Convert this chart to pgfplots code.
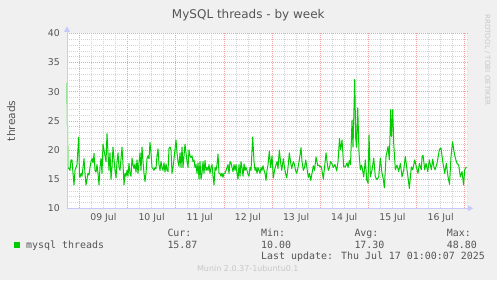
\documentclass[border=0pt]{standalone}
\usepackage{pgfplots}
\pgfplotsset{compat=1.18}
\usepackage{pgfplotstable}
\usetikzlibrary{arrows.meta}
\usepackage{fontspec}
\setmainfont{DejaVu Sans}
\newfontfamily\mono{DejaVu Sans Mono}
\definecolor{bg}{HTML}{F0F0F0}
\definecolor{txt}{HTML}{555555}
\definecolor{mgrid}{HTML}{F2A0A0}
\definecolor{ngrid}{HTML}{D4D4D4}
\definecolor{axl}{HTML}{C8C8FA}
\definecolor{lgreen}{HTML}{00CC00}
\definecolor{wm}{HTML}{C8C8C8}
% p = horizontal sample position (one sample per 30 min), v = threads
\pgfplotstableread{
p v
67 31.5
68 17
69 16.8
70 16.5
71 18.3
72 18.3
73 16
74 14
75 16.5
76 17
77 17.5
78.7 22.2
79.5 15.5
80 15.3
81 16
82 15.5
83 17
84 18.5
85 16
86 14
87 15
88 16
89 15.7
90 17
91 18
92 18.5
93 17.8
94 19.4
95 16.5
96 16.2
97 17.5
98 16
99 14
100 17
101 18.5
102 16
103 21
104 20
105 19
106 18
107 22.8
108 19.5
109 16.5
110 19.5
111 15
112 17
113 20.5
114 18.5
115 16.5
116 15.2
117 18
118 19.5
119 17
120 16.5
121 18.5
122 20.5
123 17.5
124 14
125 16
126 15.5
127 16.5
128 15.5
129 17.7
130 16
131 15.5
132 18.6
133 17.5
134 16.8
135 17.6
136 16.2
137 18.3
138 16
139 17.8
140 19.5
141 16.5
142 20.5
143 18
144 16
145 14.6
146 16
147 18.5
148 19
149 18.5
150 21.3
151 19.5
152 17
153 16.8
154 16.5
155 17
156 16.8
157 19
158 20.2
159 17.5
160 16.5
161 18
162 17
163 16.5
164 17.8
165 16.2
166 17.6
167 16.5
168 16.3
169 20.3
170 20.5
171 20
172 16
173 17
174 18.5
176 21.7
177 19.5
178 18
179 17.2
180 19.5
181 17
182 20.5
183 17
184 19
185 21
186 19.5
187 18
188 17
189 20
190 19
191 18.7
192 19
193 18
194 18.3
195 17
196 17.5
197 16
198 17.8
199 15
200 18
201 15
202 16
203 18
204 16
205 18.2
206 16.5
207 17
208 16.5
209 17.5
210 16
211 17
212 17.5
213 15.5
214 14
215 17
216 16.5
217 17.5
218 19.3
219 16
220 16
221 15.5
222 16
223 15.3
224 16
225 16
226 16.5
227 17
228 17.5
229 16
230 18
231 17.8
232 17
233 16.3
234 17.5
235 16.5
236 17.5
237 16
238 15
239 17.5
240 15.5
241 18
242 17
243 15.5
244 17.6
245 16.5
246 17
247 16.5
248 15.8
249 15.5
250 17
251 16.5
252.7 22.2
254 18
255 16.5
256 17
257 16
258 17
259 16.5
260 16
261 17
262 16.5
263 17.3
264 16.5
265 16
266 14.8
267 16.5
268 17.5
269.3 19.8
270.7 17
272 19
273.3 15.2
274.5 16.5
276 17.5
277 18
278 16.8
279.3 20
280.5 18
281.7 16.5
283.3 18.5
284.5 17
285.5 16
286.7 15.2
288 17
289.3 19.5
290.5 18
291.7 16.8
293.3 18
294.5 17.5
295.5 16.5
296.7 16
298 17
299.5 18.5
301 20.4
302 18
303.3 16.5
304.5 17
305.7 18.3
307 16.8
308.3 15.3
309.5 16
310.7 14.8
312 16
313.3 17.3
314.5 16.5
316 18.8
317.7 17.3
319 17.4
320 17.1
321 17.2
321.7 16.8
323.3 15
324.5 17
326 19.5
327 18
328.3 16.5
329.5 17
330.5 18
331.7 17.7
333.3 17
335 17.5
336.7 16.4
338 18
339.5 22
340.5 20
342 21.7
343.7 17.1
345.3 17.1
347 17.8
348 17
349.3 18.2
350.5 17.5
352 25.1
353 20.5
354.7 32.1
355.7 22
356.5 20.5
357.7 27.2
359 19.5
360.3 16.6
361.3 17.4
362 17.1
363.7 15.4
365.3 18.3
366.7 14.9
368 14.3
369 22.6
370.3 15.4
372 16.6
373.7 18.6
375.3 15.4
377 14.9
378.7 15.4
380.3 18.6
382 16
383.3 15
384.3 13.5
386 18.9
388 20.6
389.3 18.3
390.7 26.9
391.5 22.3
392.7 26.9
393.7 21.1
395.3 16.6
397 17.4
398.7 16.3
400.3 17.7
402 15.4
403.7 16.6
405.3 18.9
407 16.6
408.2 15
409.3 13.4
411.3 17.1
412.7 16.6
414.7 18.3
416.3 17.1
418 16
419.3 17.7
421.3 16.6
422 18.8
423 19.1
424.7 16.6
426 17.7
427.7 16.3
429.3 18.3
431.3 16.6
432.7 18.4
434 17
435 16.6
437 17.7
439.3 20
440.3 20.3
441 20.3
442.7 18
444.7 16
446.3 17.7
448 15.4
449.5 14.1
451 18.9
452.5 21.4
454 19.7
455.3 18.6
457 17.7
458.7 17.4
460.3 15.4
462 16.3
463.5 14
464.7 16.6
466.3 17.1
}\threads
\begin{document}
\begin{tikzpicture}[x=1bp,y=1bp]
\fill[bg] (0,0) rectangle (497,280);
\path[use as bounding box] (0,0) rectangle (497,280);
\begin{axis}[
  at={(67bp,71.7bp)}, anchor=south west,
  scale only axis, width=400.3bp, height=175bp,
  xmin=-6.128, xmax=193.3, ymin=10, ymax=40,
  axis line style={draw=none},
  axis background/.style={fill=white},
  ytick={10,15,...,40}, minor y tick num=4,
  xtick={0,24,...,192}, xticklabel={\mbox{}},
  minor xtick={-6,6,12,18,30,36,42,54,60,66,78,84,90,102,108,114,126,132,138,150,156,162,174,180,186},
  extra x ticks={12,36,60,84,108,132,156,180},
  extra x tick labels={09 Jul,10 Jul,11 Jul,12 Jul,13 Jul,14 Jul,15 Jul,16 Jul},
  extra x tick style={grid=none},
  grid=both,
  major grid style={mgrid, line width=0.6bp, dash pattern=on 1bp off 1bp},
  minor grid style={ngrid, line width=0.6bp, dash pattern=on 1bp off 1bp},
  major tick length=0pt, minor tick length=0pt,
  /pgf/number format/assume math mode=true,
  ticklabel style={font=\fontsize{9.33bp}{11bp}\selectfont, text=txt},
  yticklabel style={inner sep=0pt, anchor=east, xshift=-7bp},
  xticklabel style={inner sep=0pt, anchor=north, yshift=-5bp},
  clip=false,
]
\addplot[lgreen, line width=1bp, line join=round, mark=none]
  table[x expr={(\thisrow{p}-79.3)/2.0071}, y=v] {\threads};
\draw[axl, line width=0.9bp, -{Triangle[length=5.5bp,width=5.5bp]}]
  (rel axis cs:0,0) -- ([yshift=7bp]rel axis cs:0,1);
\draw[axl, line width=0.9bp, -{Triangle[length=5.5bp,width=5.5bp]}]
  (rel axis cs:0,0) -- ([xshift=6bp]rel axis cs:1,0);
\end{axis}
% title and labels
\node[anchor=base, text=txt, font=\fontsize{12bp}{14bp}\selectfont, inner sep=0pt] at (248.3,261.7) {MySQL threads - by week};
\node[anchor=base, rotate=90, text=txt, font=\fontsize{10.67bp}{12bp}\selectfont, inner sep=0pt] at (15,159.2) {threads};
\node[anchor=base, rotate=-90, text=wm, font=\fontsize{7.1bp}{8bp}\selectfont, inner sep=0pt] at (485,220) {RRDTOOL / TOBI OETIKER};
% legend
\fill[lgreen] (14,32.3) rectangle (20,38);
\begin{scope}[every node/.style={anchor=base west, inner sep=0pt, text=txt, font=\mono\fontsize{9.95bp}{12bp}\selectfont}]
\node at (26,32) {mysql threads};
\node at (167.3,43.7) {Cur:};
\node at (167.3,31.7) {15.87};
\node at (261,43.7) {Min:};
\node at (261,31.7) {10.00};
\node at (354.3,43.7) {Avg:};
\node at (354.3,31.7) {17.30};
\node at (446.7,43.7) {Max:};
\node at (446.7,31.7) {48.80};
\node at (261,21) {Last update: Thu Jul 17 01:00:07 2025};
\end{scope}
\node[anchor=center, text=wm, font=\fontsize{8bp}{9bp}\selectfont, inner sep=0pt] at (247.8,11.5) {Munin 2.0.37-1ubuntu0.1};
\end{tikzpicture}
\end{document}
